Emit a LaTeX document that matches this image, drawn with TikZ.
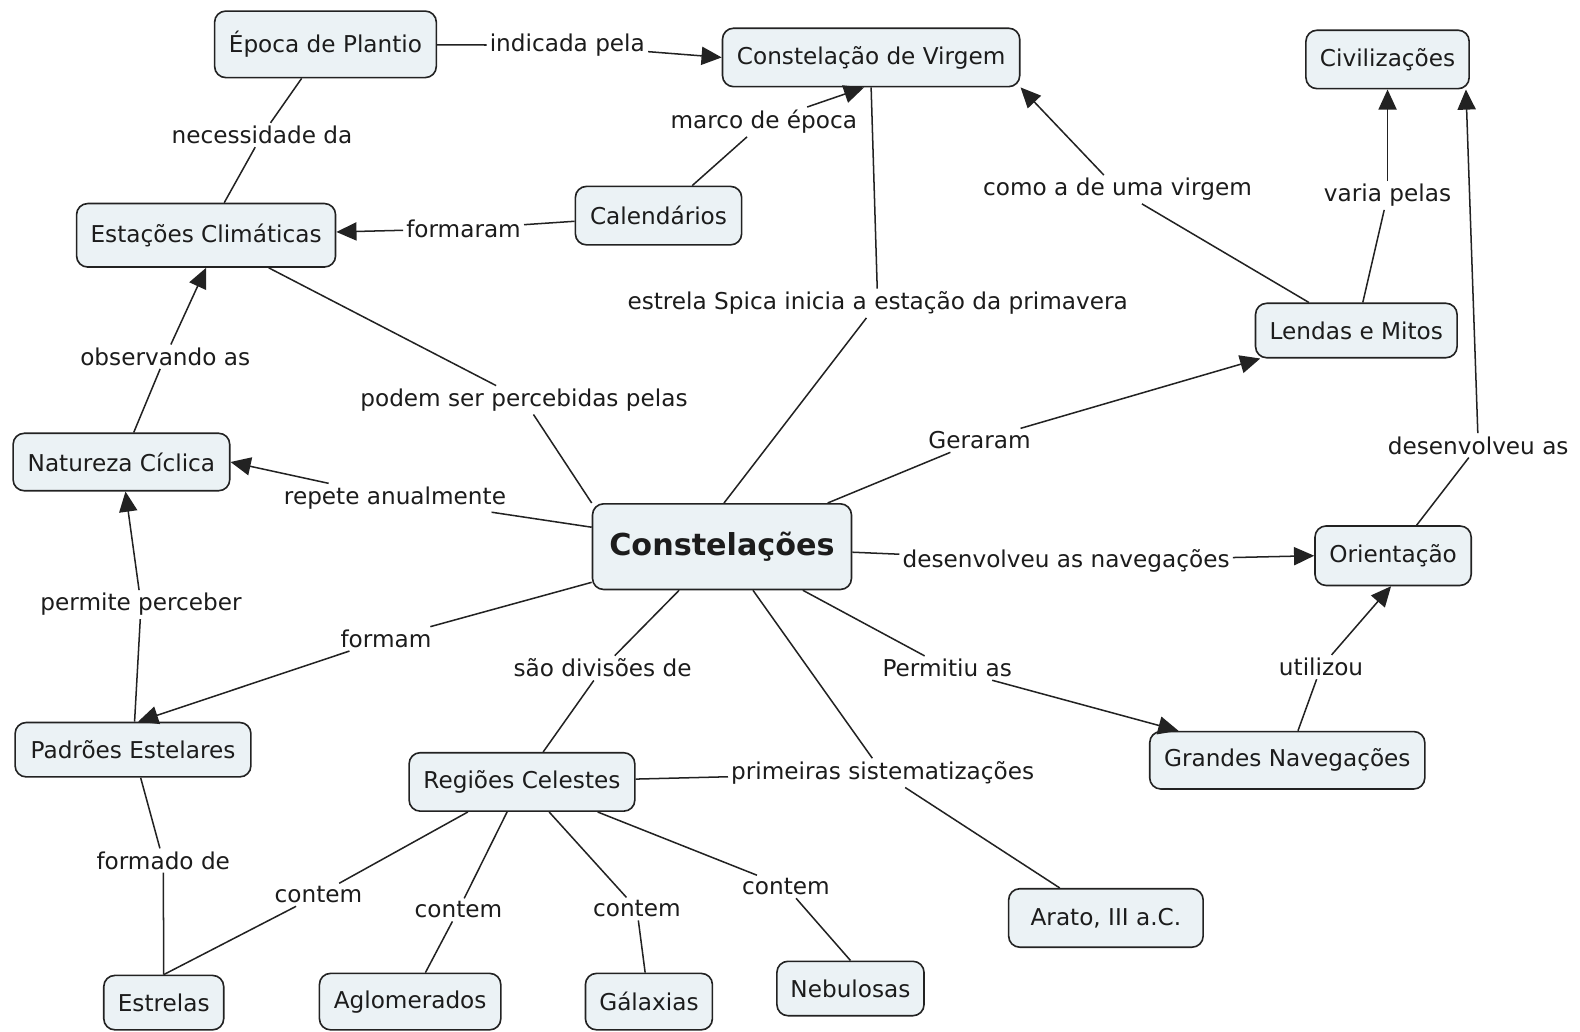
\documentclass[tikz,border=0pt]{standalone}
\usepackage{fontspec}
\setmainfont{DejaVu Sans}
\usetikzlibrary{arrows.meta}
\definecolor{cfill}{HTML}{EBF2F5}
\definecolor{cline}{HTML}{222222}
\definecolor{ctext}{HTML}{1C1C1C}
\begin{document}
\begin{tikzpicture}[x=1pt,y=-1pt,
 concept/.style={draw=cline, fill=cfill, line width=1.6pt, rounded corners=11pt, inner sep=0pt, font=\fontsize{23}{27}\selectfont, text=ctext},
 lab/.style={inner sep=3pt, font=\fontsize{23}{27}\selectfont, text=ctext},
 con/.style={draw=cline, line width=1.5pt},
 arr/.style={con, -{Triangle[length=20pt,width=18pt]}},
]
\useasboundingbox[fill=white] (0,0) rectangle (1568,1024);
% concepts
\node[concept, minimum width=220pt, minimum height=66pt] (epoca) at (323,44) {Época de Plantio};
\node[concept, minimum width=295pt, minimum height=58pt] (virgem) at (864.5,57) {Constelação de Virgem};
\node[concept, minimum width=162pt, minimum height=58pt] (civ) at (1377,59) {Civilizações};
\node[concept, minimum width=257pt, minimum height=63pt] (est) at (204.5,233.5) {Estações Climáticas};
\node[concept, minimum width=165pt, minimum height=58pt] (cal) at (653.5,214) {Calendários};
\node[concept, minimum width=200pt, minimum height=54pt] (lendas) at (1346,328) {Lendas e Mitos};
\node[concept, minimum width=215pt, minimum height=57pt] (nat) at (120.5,458.5) {Natureza Cíclica};
\node[concept, minimum width=257pt, minimum height=85pt, font=\fontsize{30}{34}\selectfont\bfseries] (const) at (716.5,542.5) {Constelações};
\node[concept, minimum width=155pt, minimum height=59pt] (ori) at (1382.5,551.5) {Orientação};
\node[concept, minimum width=234pt, minimum height=54pt] (pad) at (132,744) {Padrões Estelares};
\node[concept, minimum width=224pt, minimum height=58pt] (reg) at (518,776) {Regiões Celestes};
\node[concept, minimum width=273pt, minimum height=57pt] (gn) at (1277.5,754.5) {Grandes Navegações};
\node[concept, minimum width=193pt, minimum height=58pt] (arato) at (1097.5,911) {Arato, III a.C.};
\node[concept, minimum width=119pt, minimum height=54pt] (estrelas) at (162.5,995) {Estrelas};
\node[concept, minimum width=180pt, minimum height=56pt] (aglo) at (407,994) {Aglomerados};
\node[concept, minimum width=126pt, minimum height=56pt] (gal) at (644,994) {Gálaxias};
\node[concept, minimum width=146pt, minimum height=54pt] (neb) at (844,981) {Nebulosas};
% linking phrases
\node[lab] (l1) at (563,45) {indicada pela};
\node[lab] (l2) at (260,134) {necessidade da};
\node[lab] (l3) at (758,121) {marco de época};
\node[lab] (l4) at (460,227) {formaram};
\node[lab] (l5) at (1109,188) {como a de uma virgem};
\node[lab] (l6) at (1377,194) {varia pelas};
\node[lab] (l7) at (871,301) {estrela Spica inicia a estação da primavera};
\node[lab] (l8) at (164,354) {observando as};
\node[lab] (l9) at (520,397) {podem ser percebidas pelas};
\node[lab] (l10) at (972,437) {Geraram};
\node[lab] (l11) at (1467,442) {desenvolveu as};
\node[lab] (l12) at (392,494) {repete anualmente};
\node[lab] (l13) at (1058,557) {desenvolveu as navegações};
\node[lab] (l14) at (140,600) {permite perceber};
\node[lab] (l15) at (383,634) {formam};
\node[lab] (l16) at (598,663) {são divisões de};
\node[lab] (l17) at (940,663) {Permitiu as};
\node[lab] (l18) at (1311,662) {utilizou};
\node[lab] (l19) at (876,767) {primeiras sistematizações};
\node[lab] (l20) at (162,854) {formado de};
\node[lab] (l21) at (316,888) {contem};
\node[lab] (l22) at (455,903) {contem};
\node[lab] (l23) at (632,902) {contem};
\node[lab] (l24) at (780,880) {contem};
% connectors
\draw[con] (epoca) -- (l1); \draw[arr] (l1) -- (virgem.west);
\draw[con] (epoca) -- (l2); \draw[con] (l2) -- (est);
\draw[con] (cal) -- (l3); \draw[arr] (l3) -- ([xshift=-7pt]virgem.south);
\draw[con] (cal) -- (l4); \draw[arr] (l4) -- (est);
\draw[con] (lendas) -- (l5); \draw[arr] (l5) -- (virgem.south east);
\draw[con] (lendas) -- (l6); \draw[arr] (l6) -- (civ.south);
\draw[con] ([xshift=2pt]const.north) -- (l7); \draw[con] (l7) -- (virgem.south);
\draw[con] (nat) -- (l8); \draw[arr] (l8) -- (est.south);
\draw[con] (const.north west) -- (l9); \draw[con] (l9) -- (est);
\draw[con] (const) -- (l10); \draw[arr] (l10) -- (lendas);
\draw[con] (ori) -- (l11); \draw[arr] (l11) -- ([xshift=-4pt]civ.south east);
\draw[con] (const) -- (l12); \draw[arr] (l12) -- (nat.east);
\draw[con] (const) -- (l13); \draw[arr] (l13) -- (ori.west);
\draw[con] (pad) -- (l14); \draw[arr] (l14) -- (nat);
\draw[con] (const) -- (l15); \draw[arr] (l15) -- ([xshift=5pt]pad.north);
\draw[con] (const) -- (l16); \draw[con] (l16) -- (reg);
\draw[con] (const) -- (l17); \draw[arr] (l17) -- (gn);
\draw[con] (gn) -- (l18); \draw[arr] (l18) -- ([xshift=-2pt]ori.south);
\draw[con] (const) -- (l19); \draw[con] (reg) -- (l19); \draw[con] (l19) -- (arato);
\draw[con] (pad) -- (l20); \draw[con] (l20) -- (estrelas.north);
\draw[con] (reg) -- (l21); \draw[con] (l21) -- (estrelas.north);
\draw[con] (reg) -- (l22); \draw[con] (l22) -- (aglo);
\draw[con] (reg) -- (l23); \draw[con] (l23) -- (gal);
\draw[con] (reg) -- (l24); \draw[con] (l24) -- (neb.north);
\end{tikzpicture}
\end{document}
